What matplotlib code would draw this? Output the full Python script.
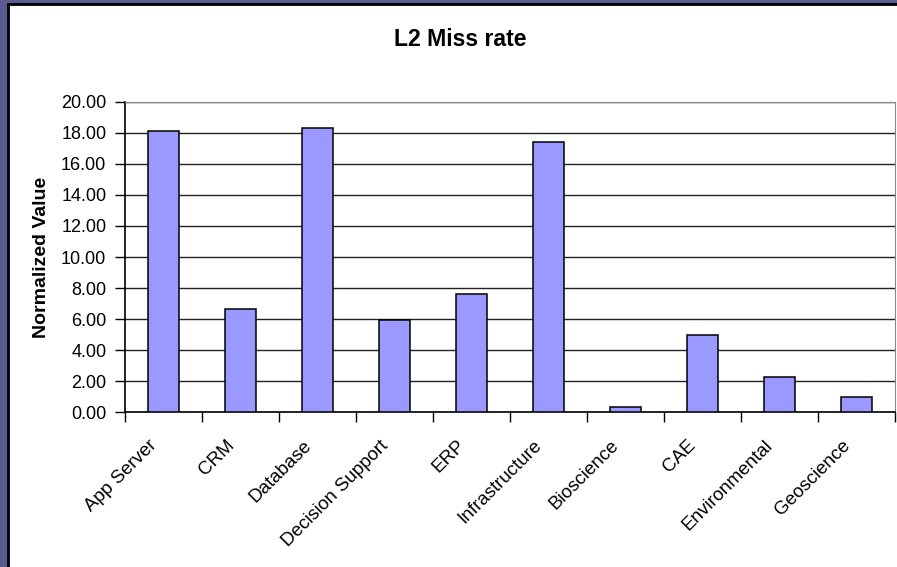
import matplotlib.pyplot as plt
from matplotlib.patches import Rectangle
from matplotlib.transforms import ScaledTranslation
import numpy as np

# Data
categories = ['App Server', 'CRM', 'Database', 'Decision Support', 'ERP',
              'Infrastructure', 'Bioscience', 'CAE', 'Environmental', 'Geoscience']
miss_rate = [18.1, 6.65, 18.3, 5.97, 7.6, 17.42, 0.36, 4.95, 2.26, 0.97]
yticks = [0, 2, 4, 6, 8, 10, 12, 14, 16, 18, 20]

plt.rcParams['font.family'] = ['Liberation Sans', 'DejaVu Sans']

fig = plt.figure(figsize=(8.97, 5.67), dpi=100, facecolor='#585c8e')

# white chart area with black frame, like a slide-embedded chart
fig.patches.append(Rectangle((8 / 897, -0.05), 1.1, 1 - 4 / 567 + 0.05,
                             transform=fig.transFigure, facecolor='white',
                             edgecolor='black', linewidth=2, zorder=-1))

ax = fig.add_axes([125 / 897, 1 - 412.3 / 567, 770 / 897, 310.6 / 567])
ax.set_facecolor('white')

x = np.arange(len(categories))
ax.bar(x, miss_rate, width=0.4, color='#9999ff', edgecolor='black',
       linewidth=1.1, zorder=3)

ax.set_xlim(-0.5, len(categories) - 0.5)
ax.set_ylim(0, 20)
ax.set_yticks(yticks)
ax.set_yticklabels(['%.2f' % v for v in yticks], fontsize=13)
ax.yaxis.grid(True, color='#222222', linewidth=1, zorder=1)
ax.set_axisbelow(True)

# category labels at bar centres, tick marks at category boundaries
ax.set_xticks(x)
ax.set_xticklabels(categories, rotation=45, ha='right', va='center',
                   rotation_mode='anchor', fontsize=13.5)
ax.tick_params(axis='x', which='major', length=0, pad=22)
# nudge the slanted labels a little to the left, as in the original
shift = ScaledTranslation(-9 / 100, 0, fig.dpi_scale_trans)
for lbl in ax.get_xticklabels():
    lbl.set_transform(lbl.get_transform() + shift)
ax.set_xticks(np.arange(-0.5, len(categories)), minor=True)
ax.tick_params(axis='x', which='minor', length=7, width=1, color='black')
ax.tick_params(axis='y', length=7, width=1, color='black', pad=6.5)

for side in ['top', 'right']:
    ax.spines[side].set_color('#888888')
for side in ['left', 'bottom']:
    ax.spines[side].set_color('black')
    ax.spines[side].set_linewidth(1.2)

ax.set_ylabel('Normalized Value', fontsize=14, fontweight='bold', labelpad=8)
fig.text(460 / 897, 1 - 40 / 567, 'L2 Miss rate', fontsize=16.6, fontweight='bold',
         ha='center', va='center')

fig.savefig('out.png', dpi=100, facecolor=fig.get_facecolor())
